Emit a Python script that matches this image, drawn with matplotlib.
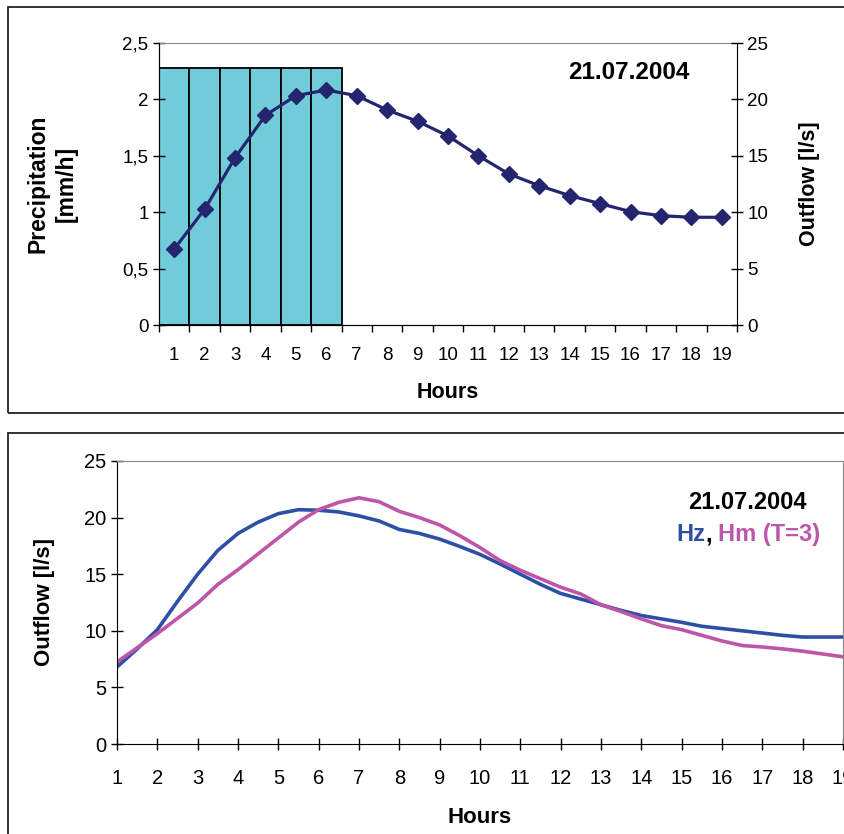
import matplotlib.pyplot as plt
from matplotlib.patches import Rectangle

plt.rcParams['font.family'] = ['Liberation Sans', 'DejaVu Sans']

# top chart data
hours = list(range(1, 20))
rain_hours = [1, 2, 3, 4, 5, 6]
rain = [2.28, 2.28, 2.28, 2.28, 2.28, 2.28]
outflow = [6.74, 10.26, 14.83, 18.59, 20.33, 20.83, 20.33, 19.06, 18.06, 16.76,
           15.0, 13.39, 12.35, 11.47, 10.76, 10.05, 9.69, 9.55, 9.55]

# bottom chart data (half hour steps)
hours_b = [1 + 0.5 * i for i in range(37)]
hz = [6.8, 8.4, 10.1, 12.6, 15.0, 17.1, 18.6, 19.6, 20.35, 20.7, 20.65, 20.5, 20.15,
      19.7, 18.95, 18.6, 18.1, 17.45, 16.75, 15.9, 15.0, 14.1, 13.3, 12.8, 12.3,
      11.8, 11.35, 11.05, 10.75, 10.4, 10.2, 10.0, 9.8, 9.6, 9.45, 9.45, 9.45]
hm = [7.25, 8.5, 9.75, 11.1, 12.45, 14.1, 15.4, 16.8, 18.2, 19.6, 20.7, 21.35, 21.75,
      21.4, 20.55, 20.0, 19.35, 18.4, 17.35, 16.2, 15.35, 14.6, 13.85, 13.25, 12.3,
      11.7, 11.05, 10.45, 10.1, 9.6, 9.1, 8.7, 8.57, 8.4, 8.2, 7.95, 7.7]

fig = plt.figure(figsize=(8.45, 8.34), dpi=100)

# frames around the two charts
fig.patches.append(Rectangle((8 / 845, 1 - 413 / 834), 1, 406 / 834, transform=fig.transFigure,
                             fill=False, edgecolor='#222222', linewidth=1.3))
fig.patches.append(Rectangle((8 / 845, -0.1), 1, 1 - 433 / 834 + 0.1, transform=fig.transFigure,
                             fill=False, edgecolor='#222222', linewidth=1.3))

# ---- top chart ----
ax = fig.add_axes([159 / 845, 1 - 325 / 834, (737 - 159) / 845, (325 - 43) / 834])
ax.bar(rain_hours, rain, width=1.0, color='#70CCD9', edgecolor='black', linewidth=1.3, zorder=1)
ax.set_xlim(0.5, 19.5)
ax.set_ylim(0, 2.5)
ax.set_yticks([0, 0.5, 1, 1.5, 2, 2.5])
ax.set_yticklabels(['0', '0,5', '1', '1,5', '2', '2,5'])
ax.set_xticks([h - 0.5 for h in hours] + [19.5])
ax.set_xticklabels([])
ax.set_xticks(hours, minor=True)
ax.set_xticklabels([str(h) for h in hours], minor=True)
ax.tick_params(axis='x', which='major', direction='out', length=5, width=1)
ax.tick_params(axis='x', which='minor', length=0, labelsize=13.5, pad=16)
ax.tick_params(axis='y', direction='inout', length=8, width=1, labelsize=13.5)
ax.spines['top'].set_color('#888888')
ax.spines['right'].set_visible(False)
ax.set_xlabel('Hours', fontsize=15.5, fontweight='bold', labelpad=13)
ax.set_ylabel('Precipitation\n[mm/h]', fontsize=16.5, fontweight='bold', labelpad=32,
              linespacing=1.3)

ax2 = ax.twinx()
ax2.plot(hours, outflow, color='#25256F', linewidth=2.3, marker='D', markersize=8)
ax2.set_ylim(0, 25)
ax2.set_yticks([0, 5, 10, 15, 20, 25])
ax2.tick_params(axis='y', direction='inout', length=8, width=1, labelsize=13.5)
ax2.spines['top'].set_visible(False)
ax2.set_ylabel('Outflow [l/s]', fontsize=15.5, fontweight='bold', labelpad=22)
ax2.text(0.813, 0.894, '21.07.2004', transform=ax2.transAxes, ha='center', va='center',
         fontsize=17.5, fontweight='bold')

# ---- bottom chart ----
bx = fig.add_axes([117 / 845, 1 - 744 / 834, (843 - 117) / 845, (744 - 461) / 834])
bx.plot(hours_b, hz, color='#2E4FA6', linewidth=2.6)
bx.plot(hours_b, hm, color='#BD55A8', linewidth=2.6)
bx.set_xlim(1, 19)
bx.set_ylim(0, 25)
bx.set_xticks(hours)
bx.set_yticks([0, 5, 10, 15, 20, 25])
bx.tick_params(direction='inout', length=8, width=1, labelsize=14.5)
bx.tick_params(axis='x', pad=14)
bx.spines['top'].set_color('#888888')
bx.spines['right'].set_color('#888888')
bx.set_xlabel('Hours', fontsize=16, fontweight='bold', labelpad=14)
bx.set_ylabel('Outflow [l/s]', fontsize=16, fontweight='bold', labelpad=21)
bx.text(0.868, 0.855, '21.07.2004', transform=bx.transAxes, ha='center', va='center',
        fontsize=17, fontweight='bold')
t1 = bx.text(0.771, 0.74, 'Hz', transform=bx.transAxes, ha='left', va='center',
             fontsize=17, fontweight='bold', color='#2E4FA6')
t2 = bx.annotate(',', xycoords=t1, xy=(1, 0), xytext=(0, 0), textcoords='offset points',
                 va='bottom', fontsize=17, fontweight='bold')
bx.annotate('Hm (T=3)', xycoords=t2, xy=(1, 0), xytext=(4, 0), textcoords='offset points',
            va='bottom', fontsize=17, fontweight='bold', color='#BD55A8')

fig.savefig('out.png', dpi=100)
